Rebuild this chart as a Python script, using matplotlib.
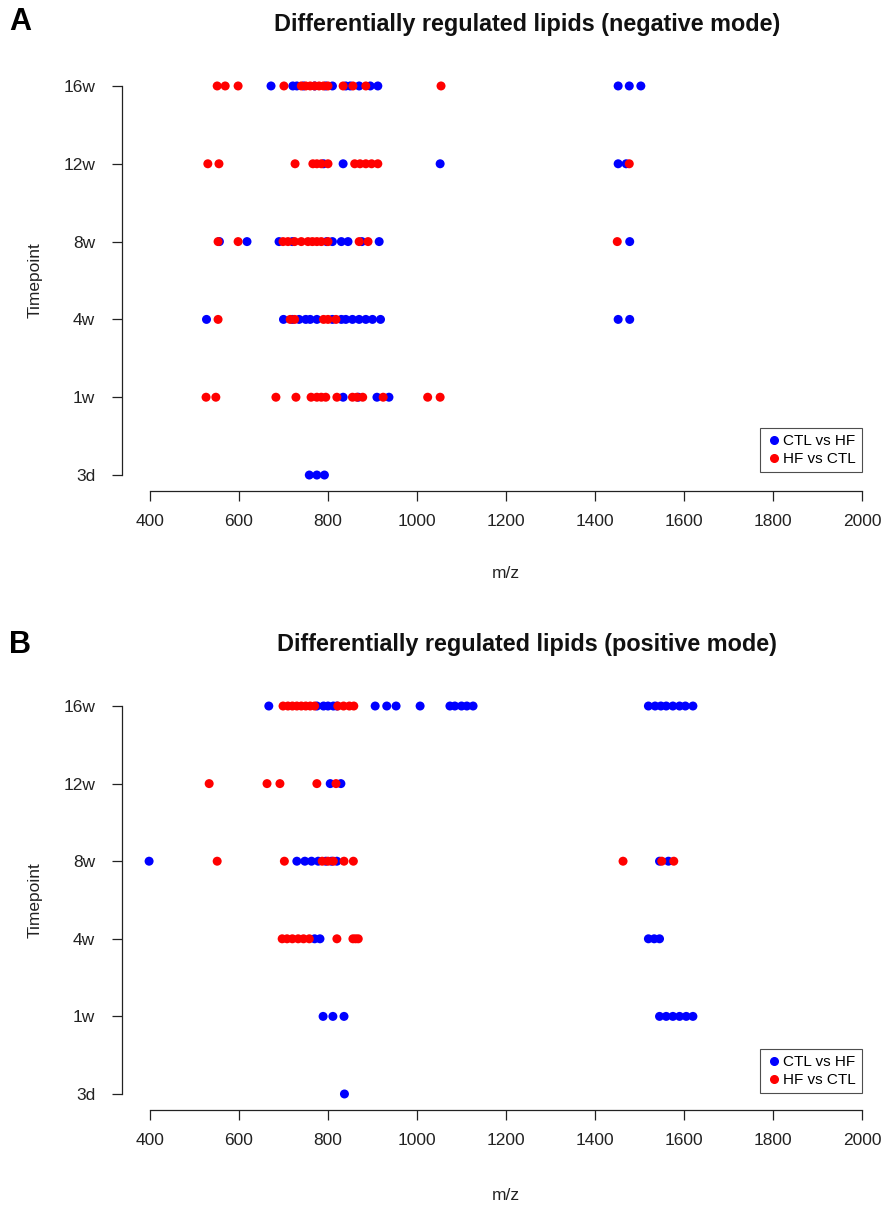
import matplotlib.pyplot as plt
from matplotlib.lines import Line2D

plt.rcParams['font.family'] = ['Liberation Sans', 'DejaVu Sans']

timepoints = ['3d', '1w', '4w', '8w', '12w', '16w']

# negative mode (panel A): m/z values per timepoint
neg_ctl_hf = {
    '3d': [758, 775, 792],
    '1w': [834, 868, 910, 937],
    '4w': [527, 700, 720, 735, 750, 760, 775, 810, 830, 840, 855, 870, 885, 900, 918, 1452, 1478],
    '8w': [556, 618, 690, 720, 797, 810, 830, 845, 876, 915, 1478],
    '12w': [790, 834, 1052, 1452, 1470],
    '16w': [672, 721, 730, 745, 770, 795, 810, 840, 850, 870, 895, 912, 1452, 1477, 1503],
}
neg_hf_ctl = {
    '3d': [],
    '1w': [526, 548, 683, 728, 762, 775, 785, 795, 820, 855, 865, 878, 924, 1024, 1052],
    '4w': [553, 715, 725, 790, 800, 818],
    '8w': [553, 598, 699, 710, 725, 740, 755, 765, 775, 785, 800, 870, 890, 1450],
    '12w': [530, 555, 726, 766, 775, 785, 800, 860, 872, 885, 898, 912, 1477],
    '16w': [551, 569, 598, 701, 740, 750, 760, 770, 780, 790, 800, 834, 856, 885, 1054],
}

# positive mode (panel B)
pos_ctl_hf = {
    '3d': [837],
    '1w': [789, 811, 836, 1545, 1560, 1575, 1590, 1605, 1620],
    '4w': [770, 782, 1520, 1533, 1545],
    '8w': [398, 730, 748, 763, 778, 795, 808, 820, 1545, 1565],
    '12w': [805, 829],
    '16w': [667, 775, 790, 800, 812, 820, 906, 932, 953, 1007, 1074, 1085, 1100, 1112, 1126,
            1520, 1535, 1548, 1560, 1575, 1590, 1603, 1620],
}
pos_hf_ctl = {
    '3d': [],
    '1w': [],
    '4w': [697, 708, 720, 733, 745, 758, 820, 856, 862, 868],
    '8w': [551, 702, 787, 800, 812, 836, 857, 1463, 1550, 1577],
    '12w': [533, 663, 692, 775, 818],
    '16w': [699, 710, 720, 730, 740, 750, 760, 770, 822, 835, 848, 858],
}

W, H = 890, 1208
fig = plt.figure(figsize=(W / 100, H / 100), dpi=100)


def px_axes(left, top, right, bottom):
    return fig.add_axes([left / W, 1 - bottom / H, (right - left) / W, (bottom - top) / H])


def draw_panel(ax, ctl, hf, leg_y):
    for i, tp in enumerate(timepoints):
        ax.scatter(ctl[tp], [i] * len(ctl[tp]), s=42, color='#0000ff', edgecolors='none', zorder=3)
        ax.scatter(hf[tp], [i] * len(hf[tp]), s=42, color='#ff0000', edgecolors='none', zorder=3)
    ax.set_xlim(336, 2064)
    ax.set_ylim(-0.2, 5.2)
    ax.set_xticks(range(400, 2001, 200))
    ax.set_yticks(range(len(timepoints)))
    ax.set_yticklabels(timepoints)
    for s in ['top', 'right']:
        ax.spines[s].set_visible(False)
    ax.spines['left'].set_bounds(0, 5)
    ax.spines['bottom'].set_bounds(400, 2000)
    for s in ['left', 'bottom']:
        ax.spines[s].set_color('#222222')
        ax.spines[s].set_linewidth(0.9)
    ax.tick_params(axis='both', direction='out', length=7, width=0.9, color='#222222',
                   labelsize=12.5, labelcolor='#222222')
    ax.tick_params(axis='x', pad=10)
    ax.tick_params(axis='y', pad=12)
    handles = [Line2D([], [], marker='o', ls='none', color='#0000ff', markersize=5.5, label='CTL vs HF'),
               Line2D([], [], marker='o', ls='none', color='#ff0000', markersize=5.5, label='HF vs CTL')]
    leg = ax.legend(handles=handles, loc='lower right', bbox_to_anchor=(862 / W, 1 - leg_y / H),
                    bbox_transform=fig.transFigure,
                    fancybox=False, frameon=True, fontsize=11, handletextpad=0.1, borderpad=0.4,
                    handlelength=1.0, labelspacing=0.25, borderaxespad=0)
    leg.get_frame().set_edgecolor('#222222')
    leg.get_frame().set_linewidth(0.8)


axA = px_axes(121.5, 70.4, 890.5, 490.6)
draw_panel(axA, neg_ctl_hf, neg_hf_ctl, 472)

axB = px_axes(121.5, 690.5, 890.5, 1109.5)
draw_panel(axB, pos_ctl_hf, pos_hf_ctl, 1093)

fig.text(527 / W, 1 - 24 / H, 'Differentially regulated lipids (negative mode)', ha='center', va='center',
         fontsize=16.8, fontweight='bold', color='#111111')
fig.text(527 / W, 1 - 645 / H, 'Differentially regulated lipids (positive mode)', ha='center', va='center',
         fontsize=16.8, fontweight='bold', color='#111111')
fig.text(9 / W, 1 - 22 / H, 'A', ha='left', va='center', fontsize=22, fontweight='bold')
fig.text(9 / W, 1 - 645 / H, 'B', ha='left', va='center', fontsize=22, fontweight='bold')

fig.text(506 / W, 1 - 574 / H, 'm/z', ha='center', va='center', fontsize=12.5, color='#222222')
fig.text(506 / W, 1 - 1195 / H, 'm/z', ha='center', va='center', fontsize=12.5, color='#222222')
fig.text(35 / W, 1 - 280 / H, 'Timepoint', ha='center', va='center', rotation=90, fontsize=12.5, color='#222222')
fig.text(35 / W, 1 - 900 / H, 'Timepoint', ha='center', va='center', rotation=90, fontsize=12.5, color='#222222')

fig.savefig('out.png', dpi=100)
